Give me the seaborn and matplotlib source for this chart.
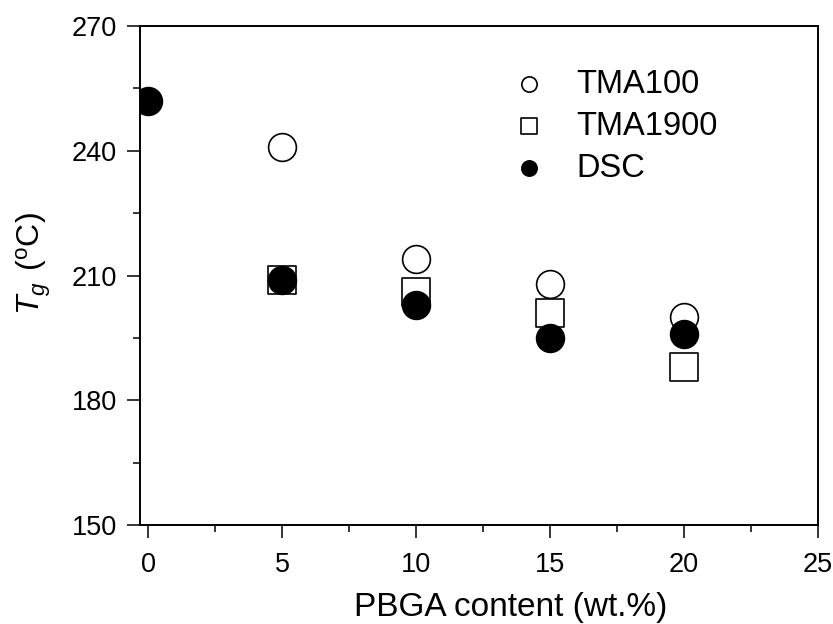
import matplotlib
matplotlib.use("Agg")
import matplotlib.pyplot as plt
from matplotlib.ticker import MultipleLocator
import pandas as pd
import seaborn as sns

# Glass transition temperatures vs. PBGA loading
pbga_tma = [5, 10, 15, 20]
tma100 = [241, 214, 208, 200]
tma1900 = [209, 206, 201, 188]
pbga_dsc = [0, 5, 10, 15, 20]
dsc = [252, 209, 203, 195, 196]

sns.set_theme(style="ticks")
plt.rcParams["font.family"] = ["Liberation Sans", "DejaVu Sans"]
plt.rcParams["mathtext.fontset"] = "custom"
plt.rcParams["mathtext.rm"] = "Liberation Sans"
plt.rcParams["mathtext.it"] = "Liberation Sans:italic"
plt.rcParams["text.color"] = "black"

fig = plt.figure(figsize=(8.33, 6.24), dpi=100)
ax = fig.add_axes([140 / 833, 1 - 525 / 624, 678 / 833, 499 / 624])

df100 = pd.DataFrame({"x": pbga_tma, "y": tma100})
df1900 = pd.DataFrame({"x": pbga_tma, "y": tma1900})
dfdsc = pd.DataFrame({"x": pbga_dsc, "y": dsc})

ms = 400
sns.scatterplot(data=df100, x="x", y="y", ax=ax, marker="o", s=ms,
                facecolor="white", edgecolor="black", linewidth=1.2,
                label="TMA100", zorder=3)
sns.scatterplot(data=df1900, x="x", y="y", ax=ax, marker="s", s=ms,
                facecolor="white", edgecolor="black", linewidth=1.2,
                label="TMA1900", zorder=4)
sns.scatterplot(data=dfdsc, x="x", y="y", ax=ax, marker="o", s=ms,
                facecolor="black", edgecolor="black", linewidth=1.2,
                label="DSC", zorder=5)

ax.set_xlim(-0.3, 25)
ax.set_ylim(150, 270)
ax.xaxis.set_major_locator(MultipleLocator(5))
ax.xaxis.set_minor_locator(MultipleLocator(2.5))
ax.yaxis.set_major_locator(MultipleLocator(30))
ax.yaxis.set_minor_locator(MultipleLocator(15))

for sp in ax.spines.values():
    sp.set_visible(True)
    sp.set_linewidth(1.4)
    sp.set_color("black")
    sp.set_zorder(6)

ax.tick_params(which="major", direction="out", length=9.5, width=1.1,
               color="black", labelsize=19.5, pad=7, labelcolor="black")
ax.tick_params(axis="x", which="major", pad=10)
ax.tick_params(which="minor", direction="out", length=5, width=1.1,
               color="black")

ax.set_xlabel("PBGA content (wt.%)", fontsize=24, color="black")
ax.set_ylabel(r"$T_g\;\,(^{\rm o}$C)", fontsize=23, color="black")
ax.xaxis.set_label_coords(0.546, -0.135)
ax.yaxis.set_label_coords(-0.128, 0.523)

leg = ax.legend(loc="upper left", bbox_to_anchor=(0.53, 0.94), frameon=False,
                fontsize=23.5, markerscale=0.55, handlelength=1.0,
                handletextpad=0.95, labelspacing=0.33, borderaxespad=0)
for t in leg.get_texts():
    t.set_color("black")

fig.savefig("out.png", dpi=100)
